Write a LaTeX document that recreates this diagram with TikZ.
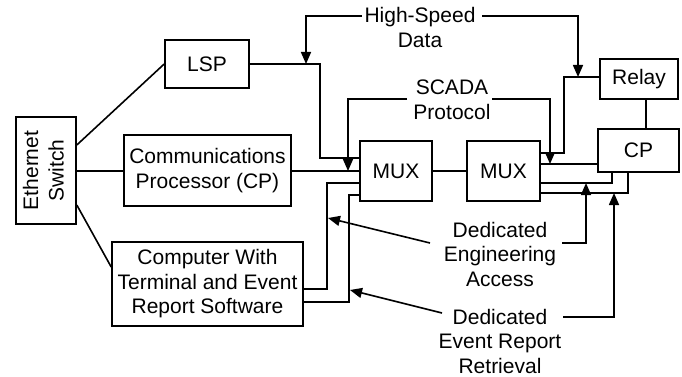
\documentclass[tikz,border=0pt]{standalone}
\usepackage{fontspec}
\setmainfont{Liberation Sans}
\usetikzlibrary{arrows.meta}
\begin{document}
\begin{tikzpicture}[x=1pt,y=-1pt,line width=1.6pt,
  txt/.style={font=\fontsize{21}{24.5}\selectfont,align=center,inner sep=0pt},
  box/.style={txt,draw,line width=1.6pt,rectangle},
  arr/.style={-{Triangle[length=12pt,width=10pt]}}]
\useasboundingbox (0,0) rectangle (682,377);
% boxes
\node[box,minimum width=60pt,minimum height=107pt] (eth) at (46,170.5) {\rotatebox{90}{\begin{tabular}{@{}c@{}}Ethernet\\[1pt]Switch\end{tabular}}};
\node[box,minimum width=84pt,minimum height=48pt] (lsp) at (207,64) {LSP};
\node[box,minimum width=167pt,minimum height=71pt] (cpp) at (207.5,170.5) {Communications\\Processor (CP)};
\node[box,minimum width=191pt,minimum height=84pt] (comp) at (207.5,284) {Computer With\\Terminal and Event\\Report Software};
\node[box,minimum width=72pt,minimum height=60pt] (mux1) at (396,171) {MUX};
\node[box,minimum width=73pt,minimum height=60pt] (mux2) at (503.5,171) {MUX};
\node[box,minimum width=78pt,minimum height=40pt] (relay) at (639,79) {Relay};
\node[box,minimum width=81pt,minimum height=43pt] (cp) at (638.5,150.5) {CP};
% labels
\node[txt] (hs) at (420,27.5) {High-Speed\\Data};
\node[txt] (scada) at (452,100) {SCADA\\Protocol};
\node[txt] (dea) at (500,254) {Dedicated\\Engineering\\Access};
\node[txt] (der) at (500,341) {Dedicated\\Event Report\\Retrieval};
% coordinates
\coordinate (hsL) at (362,16);
\coordinate (hsR) at (482,16);
\coordinate (hsT1) at (306,64);
\coordinate (hsT2) at (578,77);
\coordinate (scL) at (407,99);
\coordinate (scR) at (492,99);
\coordinate (scT1) at (348,171);
\coordinate (scT2) at (550,164);
\coordinate (deaL) at (430,243);
\coordinate (deaR) at (562,243);
\coordinate (deaT1) at (328,218);
\coordinate (deaT2) at (586,183);
\coordinate (derL) at (442,313);
\coordinate (derR) at (563,317);
\coordinate (derT1) at (350,290);
\coordinate (derT2) at (614,193);
% connectors
\draw (eth.east |- 0,145) -- (lsp.west);
\draw (eth.east |- 0,171) -- (cpp.west |- 0,171);
\draw (eth.east |- 0,205) -- (comp.west |- 0,267);
\draw (lsp.east) -- (320,64) -- (320,158) -- (mux1.west |- 0,158);
\draw (cpp.east |- 0,171) -- (mux1.west |- 0,171);
\draw (comp.east |- 0,289) -| (327,183) -- (mux1.west |- 0,183);
\draw (comp.east |- 0,302) -| (349,195) -- (mux1.west |- 0,195);
\draw (mux1.east) -- (mux2.west);
\draw (mux2.east |- 0,153) -| (564,77) -- (relay.west |- 0,77);
\draw (mux2.east |- 0,164) -- (cp.west |- 0,164);
\draw (mux2.east |- 0,183) -| (cp.south -| 612,0);
\draw (mux2.east |- 0,193) -| (cp.south -| 628,0);
\draw (relay.south -| 646,0) -- (cp.north -| 646,0);
% label arrows
\draw[arr] (hsL) -| (hsT1);
\draw[arr] (hsR) -| (hsT2);
\draw[arr] (scL) -| (scT1);
\draw[arr] (scR) -| (scT2);
\draw[arr] (deaL) -- (deaT1);
\draw[arr] (deaR) -| (deaT2);
\draw[arr] (derL) -- (derT1);
\draw[arr] (derR) -| (derT2);
\end{tikzpicture}
\end{document}
